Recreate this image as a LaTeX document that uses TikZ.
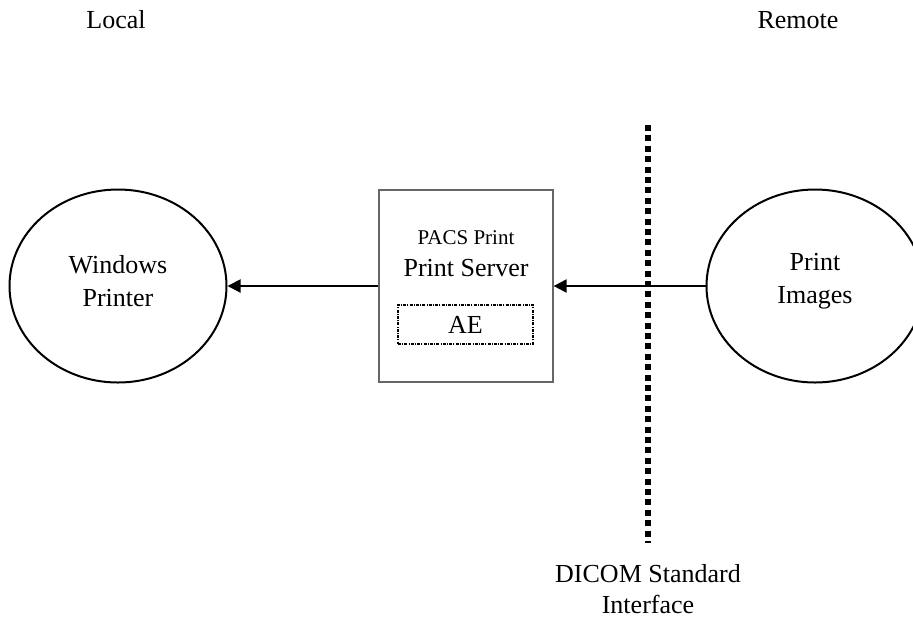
\documentclass[tikz,border=0pt]{standalone}
\usepackage{fontspec}
\setmainfont{Liberation Serif}
\usetikzlibrary{shapes.geometric,arrows.meta}
\tikzset{
  lbl/.style={font=\fontsize{13}{15.5}\selectfont,align=center,inner sep=0pt},
  inlbl/.style={font=\fontsize{13}{16.5}\selectfont,align=center,inner sep=0pt},
  oval/.style={ellipse,draw=black,line width=1pt,minimum width=108.5pt,minimum height=96.5pt,inner sep=0pt},
  srv/.style={rectangle,draw=black!60,line width=0.6pt,minimum width=87pt,minimum height=96pt,inner sep=0pt},
  aebox/.style={rectangle,draw=black,line width=0.6pt,dash pattern=on 1.5pt off 0.6pt on 0.5pt off 0.6pt,minimum width=67.5pt,minimum height=19.5pt,inner sep=0pt,font=\fontsize{13}{15.5}\selectfont},
  arr/.style={line width=1pt,-{Triangle[length=6.5pt,width=6.5pt]}},
  sep/.style={line width=3pt,dash pattern=on 3pt off 2.2pt}
}
\begin{document}
\begin{tikzpicture}[x=0.5pt,y=-0.5pt]
\useasboundingbox (0,0) rectangle (913,617);
\clip (0,0) rectangle (913,617);
\node[lbl] (local) at (116,20) {Local};
\node[lbl] (remote) at (798,20) {Remote};
\node[oval] (wp) at (118,286) {};
\node[inlbl] (wptext) at (118,281.5) {Windows\\Printer};
\node[oval] (pi) at (815,286) {};
\node[inlbl] (pitext) at (815,281.5) {Print\\Images};
\node[srv] (ps) at (466,286) {};
\node[font=\fontsize{10.5}{12}\selectfont,inner sep=0pt] (pacs) at (466,238) {PACS Print};
\node[lbl] (psname) at (466,268) {Print Server};
\node[aebox] (ae) at (465.5,324.5) {AE};
\coordinate (st) at (648,125);
\coordinate (sb) at (648,543);
\draw[sep] (st) -- (sb);
\node[lbl] (dicom) at (648,589) {DICOM Standard\\Interface};
\draw[arr] (pi.west) -- (ps.east);
\draw[arr] (ps.west) -- (wp.east);
\end{tikzpicture}
\end{document}
